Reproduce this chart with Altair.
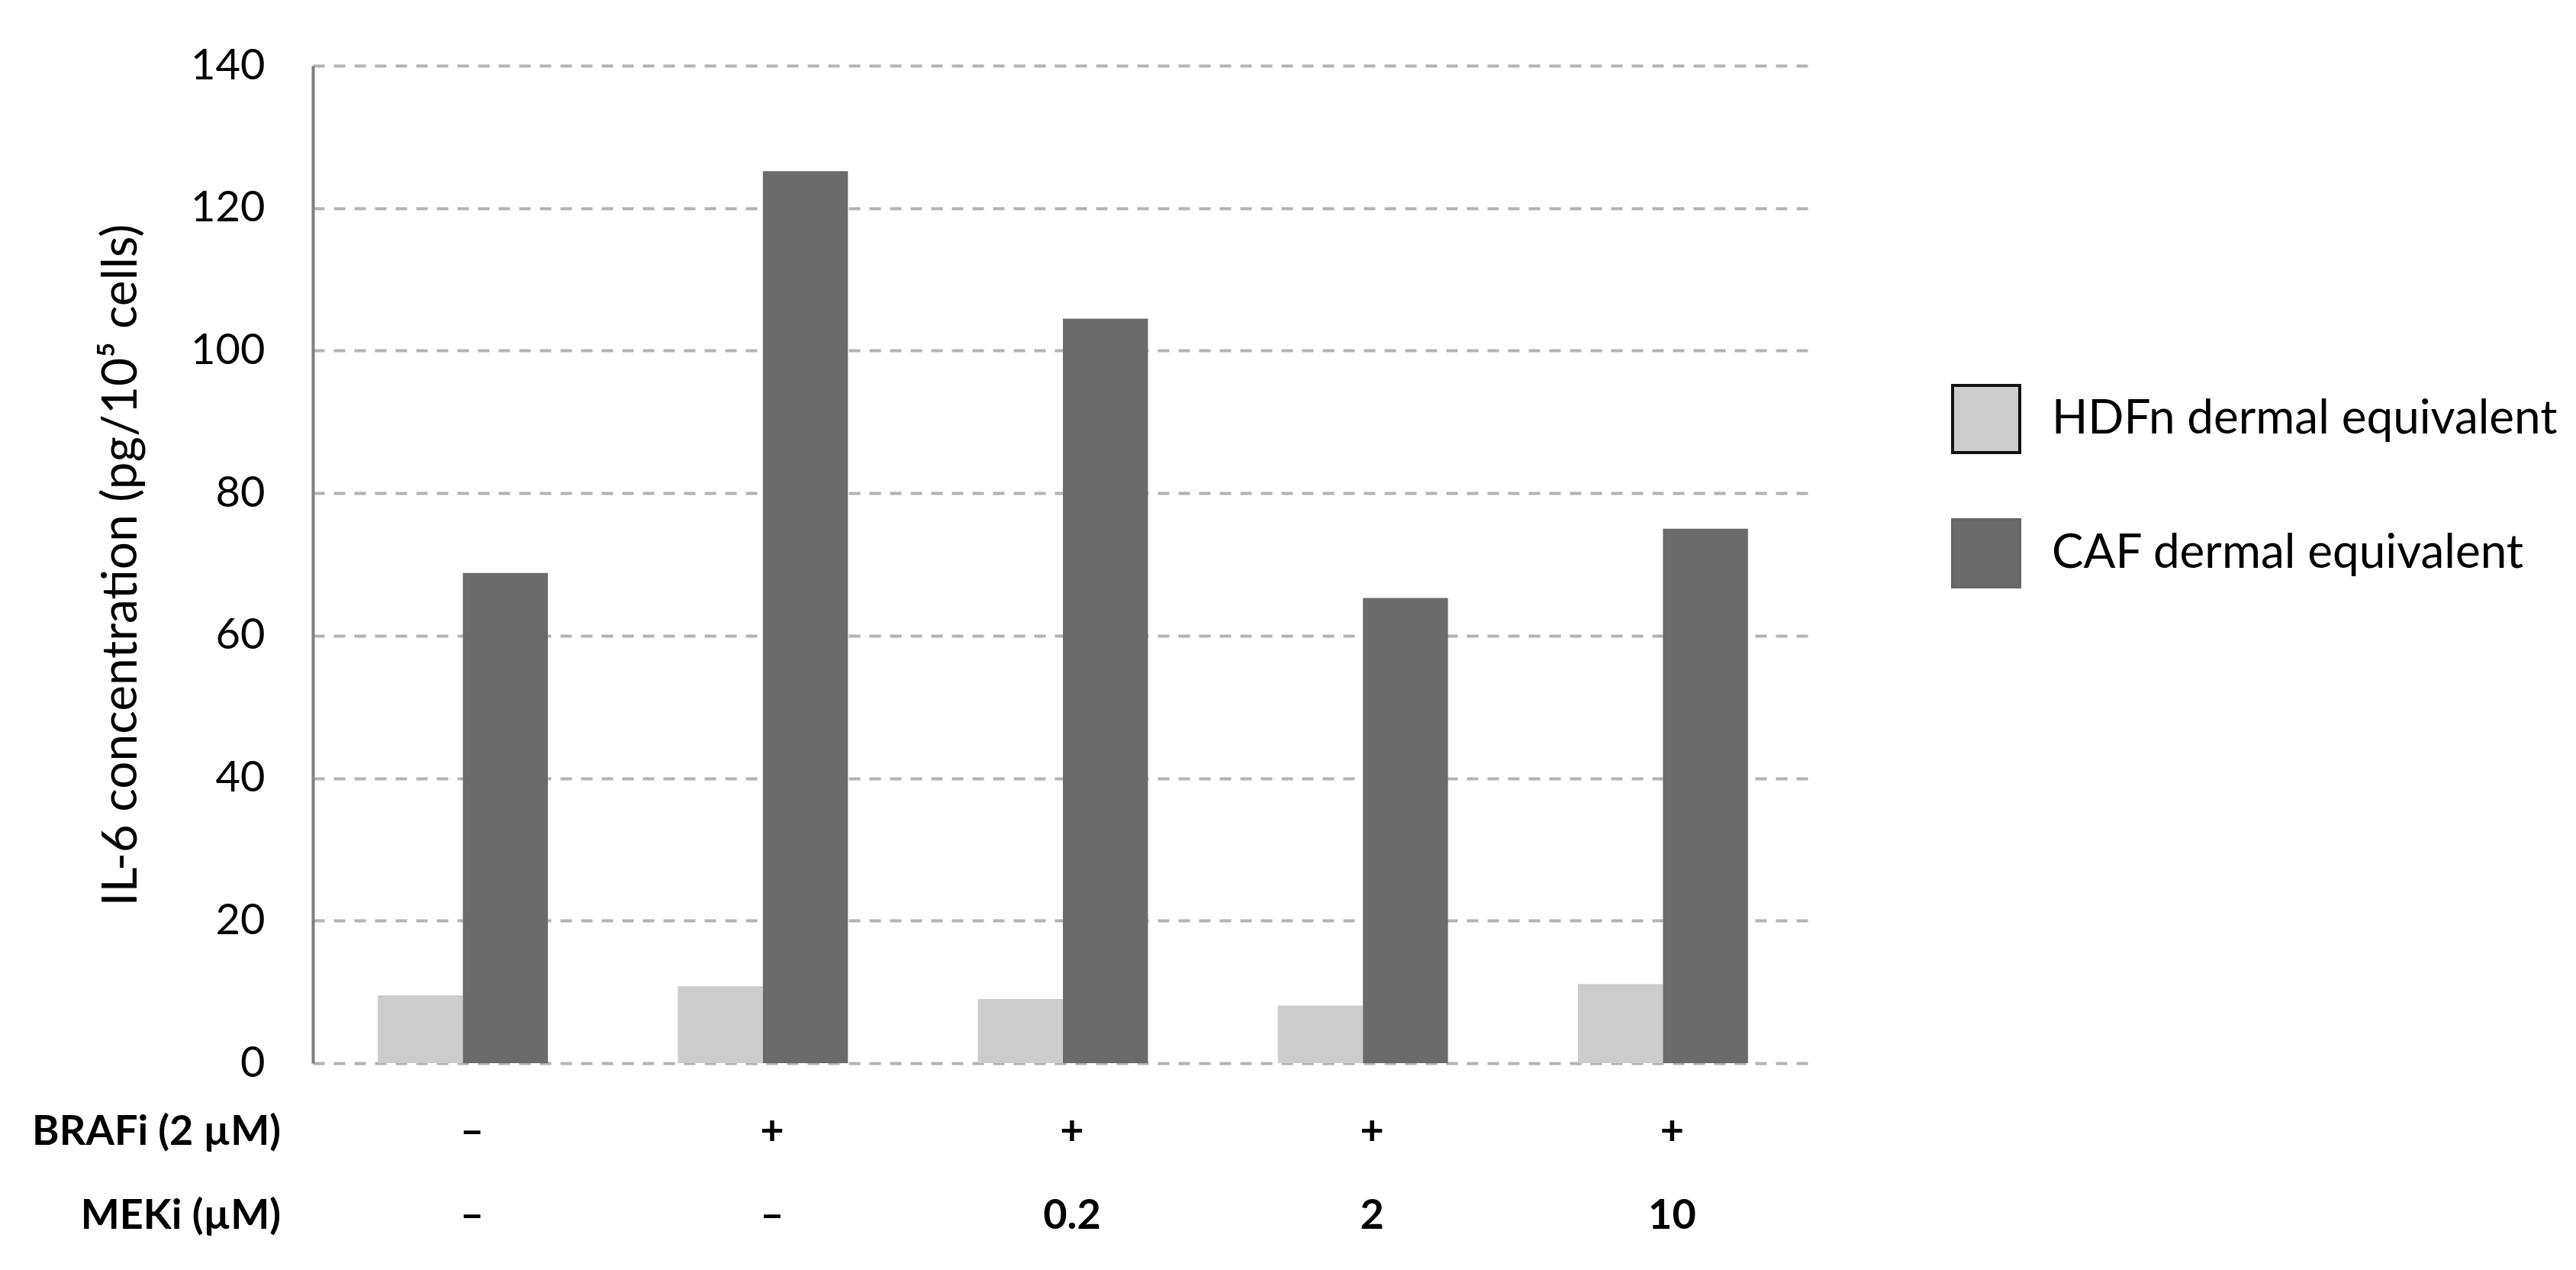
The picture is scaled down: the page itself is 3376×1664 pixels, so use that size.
import altair as alt
import pandas as pd

conditions = ["c1", "c2", "c3", "c4", "c5"]
brafi_labels = ["–", "+", "+", "+", "+"]
meki_labels = ["–", "–", "0.2", "2", "10"]
series = ["HDFn dermal equivalent", "CAF dermal equivalent"]
hdfn_values = [9.5, 10.8, 9.0, 8.1, 11.1]
caf_values = [68.8, 125.2, 104.5, 65.3, 75.0]
row_headings = ["BRAFi (2 µM)", "MEKi (µM)"]
y_ticks = [0, 20, 40, 60, 80, 100, 120, 140]

rows = []
for i, c in enumerate(conditions):
    rows.append({"condition": c, "series": series[0], "value": hdfn_values[i]})
    rows.append({"condition": c, "series": series[1], "value": caf_values[i]})
bars_df = pd.DataFrame(rows)
labels_df = pd.DataFrame({"condition": conditions, "brafi": brafi_labels, "meki": meki_labels})

FONT = "Lato"
W, H = 1966, 1307

x_enc = alt.X(
    "condition:N",
    sort=conditions,
    scale=alt.Scale(paddingInner=0.433, paddingOuter=0.2165),
    axis=alt.Axis(labels=False, ticks=False, domain=False, title=None, grid=False),
)

legend_def = alt.Legend(
    title=None,
    orient="none",
    legendX=2147,
    legendY=417,
    symbolType="square",
    symbolSize=7744,
    symbolStrokeWidth=4,
    labelFont=FONT,
    labelFontSize=62,
    labelColor="#000000",
    labelOffset=40,
    labelLimit=2000,
    rowPadding=72,
    padding=0,
    symbolOpacity=1,
)

bars = alt.Chart(bars_df).mark_bar(strokeWidth=0).encode(
    x=x_enc,
    xOffset=alt.XOffset("series:N", sort=series, scale=alt.Scale(paddingInner=0, paddingOuter=0)),
    y=alt.Y(
        "value:Q",
        scale=alt.Scale(domain=[0, 140], nice=False),
        axis=alt.Axis(
            values=y_ticks,
            title="IL-6 concentration (pg/10⁵ cells)",
            titleFont=FONT,
            titleFontSize=64,
            titleFontWeight="normal",
            titleColor="#000000",
            titleAngle=270,
            titleAlign="center",
            titleBaseline="alphabetic",
            titleX=-232,
            titleY=654,
            labelFont=FONT,
            labelFontSize=56,
            labelColor="#000000",
            labelPadding=63,
            ticks=False,
            domain=True,
            domainColor="#7f7f7f",
            domainWidth=4,
            grid=True,
            gridColor="#b3b3b3",
            gridDash=[15, 12],
            gridWidth=4,
        ),
    ),
    color=alt.Color(
        "series:N",
        sort=series,
        scale=alt.Scale(domain=series, range=["#cccccc", "#6b6b6b"]),
        legend=legend_def,
    ),
    stroke=alt.Stroke(
        "series:N",
        sort=series,
        scale=alt.Scale(domain=series, range=["#111111", "#666666"]),
        legend=legend_def,
    ),
)

text_style = dict(font=FONT, fontSize=54, fontWeight="bold", baseline="alphabetic", color="#000000")

brafi_text = alt.Chart(labels_df).mark_text(align="center", dx=12, **text_style).encode(
    x=x_enc, y=alt.value(1414), text="brafi:N"
)
meki_text = alt.Chart(labels_df).mark_text(align="center", dx=12, **text_style).encode(
    x=x_enc, y=alt.value(1524), text="meki:N"
)

heading_df = pd.DataFrame({"heading": row_headings, "row": [0, 1]})
heading1 = alt.Chart(heading_df).transform_filter("datum.row == 0").mark_text(
    align="right", **text_style
).encode(x=alt.value(-42), y=alt.value(1414), text="heading:N")
heading2 = alt.Chart(heading_df).transform_filter("datum.row == 1").mark_text(
    align="right", **text_style
).encode(x=alt.value(-42), y=alt.value(1524), text="heading:N")

chart = alt.layer(bars, brafi_text, meki_text, heading1, heading2).properties(
    width=W,
    height=H,
    autosize=alt.AutoSizeParams(type="none"),
    padding={"left": 402, "top": 78, "right": 990, "bottom": 260},
    background="#ffffff",
).configure_view(strokeWidth=0)

chart.save("out.html", embed_options={"renderer": "svg", "actions": False})
